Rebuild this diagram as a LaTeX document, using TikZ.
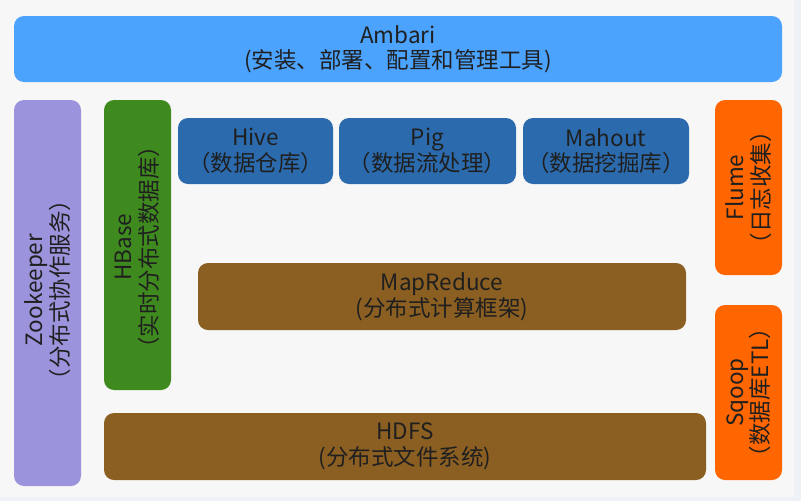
\documentclass[tikz,border=0pt]{standalone}
\usepackage{fontspec}
\setmainfont{Noto Sans CJK SC}
\begin{document}
\begin{tikzpicture}[x=1pt,y=-1pt,
  blk/.style={rounded corners=10pt, draw=none},
  lbl/.style={font=\fontsize{22.5}{25.5}\selectfont, text=black!88, align=center, inner sep=0pt},
  vlbl/.style={lbl, rotate=90}]
\definecolor{bgc}{HTML}{F7F7F7}
\definecolor{edgec}{HTML}{EEF2F7}
\definecolor{ambc}{HTML}{4CA3FE}
\definecolor{zkc}{HTML}{9B93DB}
\definecolor{hbc}{HTML}{3F8A1F}
\definecolor{appc}{HTML}{2B6AAC}
\definecolor{brc}{HTML}{8B5E22}
\definecolor{orc}{HTML}{FF6600}
% canvas
\fill[bgc] (0,0) rectangle (801,501);
\fill[edgec] (794,0) rectangle (801,501);
\fill[edgec] (0,497) rectangle (801,501);
\useasboundingbox (0,0) rectangle (801,501);
% boxes
\fill[blk, ambc] (14,16) rectangle (782,82);
\fill[blk, zkc] (14,100) rectangle (81,486);
\fill[blk, hbc] (104,100) rectangle (171,390);
\fill[blk, appc] (178,118) rectangle (333,184);
\fill[blk, appc] (339,118) rectangle (516,184);
\fill[blk, appc] (523,118) rectangle (689,184);
\fill[blk, brc] (198,263) rectangle (686,330);
\fill[blk, brc] (104,413) rectangle (706,480);
\fill[blk, orc] (715,100) rectangle (782,275);
\fill[blk, orc] (715,305) rectangle (782,480);
% labels
\node[lbl] (ambari) at (398,49) {Ambari\\(安装、部署、配置和管理工具)};
\node[vlbl] (zk) at (47.5,290) {Zookeeper\\（分布式协作服务）};
\node[vlbl] (hbase) at (137.5,247) {HBase\\（实时分布式数据库）};
\node[lbl] (hive) at (255.5,151) {Hive\\（数据仓库）};
\node[lbl] (pig) at (427.5,151) {Pig\\（数据流处理）};
\node[lbl] (mahout) at (606,151) {Mahout\\（数据挖掘库）};
\node[lbl] (mr) at (442,296.5) {MapReduce\\(分布式计算框架)};
\node[lbl] (hdfs) at (405,446.5) {HDFS\\(分布式文件系统)};
\node[vlbl] (flume) at (748.5,187.5) {Flume\\（日志收集）};
\node[vlbl] (sqoop) at (748.5,392.5) {Sqoop\\（数据库ETL）};
\end{tikzpicture}
\end{document}
